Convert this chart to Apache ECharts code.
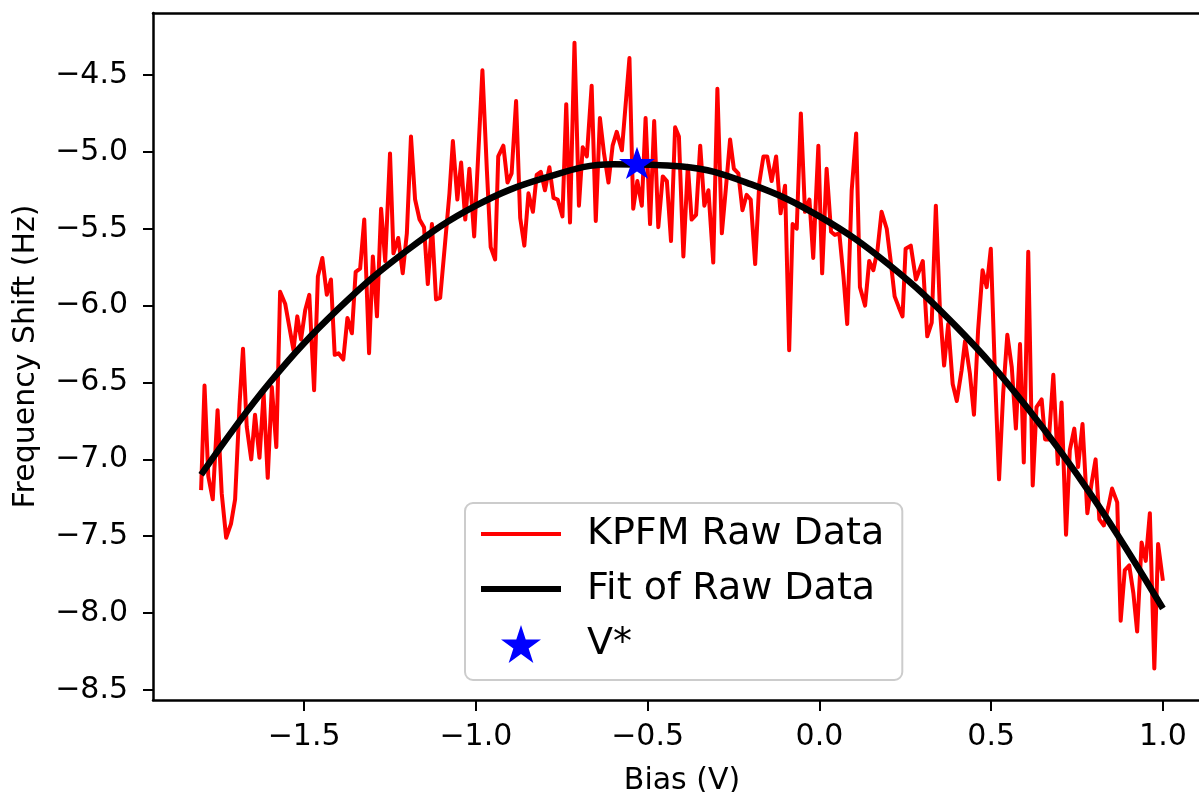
<!DOCTYPE html>
<html>
<head>
<meta charset="utf-8">
<title>KPFM bias sweep</title>
<script src="https://cdn.jsdelivr.net/npm/echarts@6/dist/echarts.min.js"></script>
<style>
  html, body { margin: 0; padding: 0; background: #ffffff; }
  #chart { width: 1199px; height: 792px; }
</style>
</head>
<body>
<div id="chart"></div>
<script>
// raw KPFM sweep
const bias = [
  -1.800, -1.790, -1.779, -1.766, -1.752, -1.740, -1.727, -1.713, -1.701, -1.688,
  -1.678, -1.667, -1.654, -1.643, -1.630, -1.618, -1.606, -1.594, -1.581, -1.570,
  -1.555, -1.543, -1.531, -1.520, -1.509, -1.497, -1.485, -1.471, -1.460, -1.447,
  -1.434, -1.422, -1.411, -1.400, -1.386, -1.374, -1.361, -1.350, -1.337, -1.325,
  -1.311, -1.300, -1.288, -1.276, -1.264, -1.250, -1.240, -1.226, -1.213, -1.201,
  -1.189, -1.177, -1.164, -1.151, -1.140, -1.128, -1.116, -1.104, -1.090, -1.077,
  -1.067, -1.054, -1.043, -1.031, -1.019, -1.005, -0.981, -0.968, -0.957, -0.944,
  -0.935, -0.920, -0.908, -0.896, -0.883, -0.871, -0.859, -0.847, -0.834, -0.823,
  -0.811, -0.799, -0.786, -0.774, -0.762, -0.748, -0.737, -0.726, -0.713, -0.700,
  -0.689, -0.677, -0.663, -0.651, -0.639, -0.627, -0.614, -0.602, -0.590, -0.575,
  -0.553, -0.542, -0.530, -0.517, -0.506, -0.493, -0.481, -0.469, -0.456, -0.444,
  -0.432, -0.420, -0.409, -0.396, -0.383, -0.372, -0.359, -0.347, -0.335, -0.323,
  -0.309, -0.297, -0.284, -0.272, -0.260, -0.249, -0.236, -0.224, -0.212, -0.200,
  -0.187, -0.175, -0.163, -0.152, -0.139, -0.126, -0.113, -0.100, -0.088, -0.078,
  -0.066, -0.054, -0.042, -0.029, -0.018, -0.003, 0.008, 0.021, 0.034, 0.045,
  0.058, 0.070, 0.081, 0.094, 0.107, 0.118, 0.133, 0.145, 0.157, 0.169,
  0.181, 0.196, 0.207, 0.219, 0.231, 0.242, 0.251, 0.266, 0.281, 0.301,
  0.314, 0.327, 0.339, 0.351, 0.363, 0.375, 0.388, 0.400, 0.414, 0.424,
  0.438, 0.450, 0.462, 0.475, 0.487, 0.499, 0.511, 0.523, 0.535, 0.547,
  0.560, 0.572, 0.584, 0.595, 0.608, 0.621, 0.632, 0.647, 0.657, 0.668,
  0.681, 0.694, 0.705, 0.718, 0.729, 0.742, 0.753, 0.766, 0.780, 0.792,
  0.804, 0.815, 0.828, 0.841, 0.852, 0.867, 0.877, 0.889, 0.902, 0.914,
  0.925, 0.938, 0.950, 0.962, 0.975, 0.986, 1.000
];
const shift = [
  -7.20, -6.52, -7.11, -7.26, -6.68, -7.22, -7.51, -7.42, -7.26, -6.64,
  -6.28, -6.79, -7.00, -6.71, -6.99, -6.57, -7.12, -6.53, -6.92, -5.91,
  -5.99, -6.14, -6.29, -6.07, -6.22, -6.03, -5.93, -6.55, -5.81, -5.69,
  -5.93, -5.83, -6.32, -6.31, -6.35, -6.08, -6.18, -5.78, -5.76, -5.44,
  -6.31, -5.68, -6.07, -5.37, -5.71, -5.01, -5.66, -5.56, -5.79, -5.53,
  -4.90, -5.31, -5.44, -5.49, -5.86, -5.47, -5.96, -5.95, -5.60, -5.27,
  -4.93, -5.31, -5.07, -5.44, -5.11, -5.55, -4.47, -5.12, -5.62, -5.70,
  -5.03, -4.96, -5.20, -5.14, -4.67, -5.43, -5.61, -5.27, -5.39, -5.15,
  -5.13, -5.25, -5.10, -5.30, -5.31, -5.42, -4.69, -5.46, -4.29, -5.35,
  -4.97, -5.03, -4.57, -5.45, -4.78, -5.01, -5.20, -4.96, -4.87, -4.99,
  -4.39, -5.37, -5.19, -5.35, -4.78, -5.47, -4.80, -5.49, -5.16, -5.19,
  -5.58, -4.84, -4.90, -5.68, -5.09, -5.44, -5.41, -4.96, -5.35, -5.25,
  -5.72, -4.59, -5.53, -5.23, -4.92, -5.11, -5.14, -5.38, -5.28, -5.31,
  -5.73, -5.20, -5.03, -5.03, -5.19, -5.03, -5.40, -5.22, -6.29, -5.47,
  -5.50, -4.75, -5.39, -5.31, -5.69, -4.96, -5.79, -5.11, -5.52, -5.54,
  -5.53, -5.81, -6.12, -5.25, -4.88, -5.88, -6.00, -5.71, -5.77, -5.64,
  -5.39, -5.50, -5.70, -5.94, -6.01, -6.07, -5.63, -5.61, -5.83, -5.71,
  -6.20, -6.11, -5.35, -6.03, -6.39, -6.12, -6.51, -6.62, -6.42, -6.23,
  -6.44, -6.71, -6.16, -5.77, -5.88, -5.63, -6.44, -7.13, -6.57, -6.19,
  -6.40, -6.80, -6.25, -7.02, -5.65, -7.17, -6.66, -6.61, -6.87, -6.87,
  -6.45, -7.03, -6.63, -7.49, -6.94, -6.80, -7.05, -6.77, -7.35, -7.16,
  -7.00, -7.39, -7.43, -7.31, -7.19, -7.28, -8.05, -7.72, -7.69, -7.87,
  -8.12, -7.54, -7.66, -7.35, -8.36, -7.55, -7.79
];

// fitted curve, sampled from the figure
const fitBias = [-1.8, -1.6, -1.4, -1.2, -1.0, -0.8, -0.6, -0.4, -0.2, 0.0, 0.2, 0.4, 0.6, 0.8, 1.0];
const fitShift = [-7.10, -6.50, -6.02, -5.64, -5.35, -5.17, -5.08, -5.095, -5.21, -5.42, -5.73, -6.14, -6.65, -7.26, -7.97];

// V* marker
const vStar = [-0.531, -5.072];

const xTicks = [-1.5, -1.0, -0.5, 0.0, 0.5, 1.0];
const yTicks = [-8.5, -8.0, -7.5, -7.0, -6.5, -6.0, -5.5, -5.0, -4.5];

const FONT = 'DejaVu Sans';
const STAR = 'path://M50,0 L61.23,34.55 L97.55,34.55 L68.16,55.9 L79.39,90.45 L50,69.1 L20.61,90.45 L31.84,55.9 L2.45,34.55 L38.77,34.55 Z';

function fmt(v) {
  return (v < 0 ? '\u2212' : '') + Math.abs(v).toFixed(1);
}

const chart = echarts.init(document.getElementById('chart'), null, { renderer: 'canvas' });

const axisLine = { show: true, onZero: false, lineStyle: { color: '#000', width: 2.5 } };

const option = {
  animation: false,
  backgroundColor: '#ffffff',
  grid: {
    left: 153, top: 13, width: 1058, height: 687,
    containLabel: false, outerBoundsMode: 'none'
  },
  xAxis: [{
    type: 'value',
    min: -1.94, max: 1.14,
    position: 'bottom',
    splitLine: { show: false },
    axisLine: axisLine,
    axisTick: { show: true, inside: false, length: 11, lineStyle: { color: '#000', width: 2 }, customValues: xTicks },
    axisLabel: { customValues: xTicks, formatter: fmt, fontFamily: FONT, fontSize: 30, color: '#000', margin: 22 },
    name: 'Bias (V)',
    nameLocation: 'middle',
    nameGap: 66,
    nameTextStyle: { fontFamily: FONT, fontSize: 30, color: '#000' }
  }, {
    type: 'value',
    min: -1.94, max: 1.14,
    position: 'top',
    splitLine: { show: false },
    axisLine: axisLine,
    axisTick: { show: false },
    axisLabel: { show: false }
  }],
  yAxis: [{
    type: 'value',
    min: -8.565, max: -4.097,
    position: 'left',
    splitLine: { show: false },
    axisLine: axisLine,
    axisTick: { show: true, inside: false, length: 10, lineStyle: { color: '#000', width: 2 }, customValues: yTicks },
    axisLabel: { customValues: yTicks, formatter: fmt, fontFamily: FONT, fontSize: 30, color: '#000', margin: 25 },
    name: 'Frequency Shift (Hz)',
    nameLocation: 'middle',
    nameGap: 112,
    nameTextStyle: { fontFamily: FONT, fontSize: 30, color: '#000' }
  }],
  legend: {
    orient: 'vertical',
    left: 465, top: 503,
    itemWidth: 80, itemHeight: 38, itemGap: 17,
    padding: [12, 18, 17, 13],
    backgroundColor: 'rgba(255,255,255,0.8)',
    borderColor: '#cccccc', borderWidth: 2, borderRadius: 8,
    selectedMode: false,
    textStyle: { fontFamily: FONT, fontSize: 38, color: '#000', padding: [0, 0, 0, 21] },
    data: [
      { name: 'KPFM Raw Data', lineStyle: { width: 4 }, itemStyle: { opacity: 0 } },
      { name: 'Fit of Raw Data', lineStyle: { width: 6 }, itemStyle: { opacity: 0 } },
      { name: 'V*' }
    ]
  },
  series: [{
    name: 'KPFM Raw Data',
    type: 'line',
    data: bias.map((b, i) => [b, shift[i]]),
    symbol: 'none',
    color: '#ff0000',
    lineStyle: { color: '#ff0000', width: 4, join: 'round' },
    z: 2
  }, {
    name: 'Fit of Raw Data',
    type: 'line',
    data: fitBias.map((b, i) => [b, fitShift[i]]),
    symbol: 'none',
    smooth: 0.4,
    color: '#000000',
    lineStyle: { color: '#000000', width: 6.5, join: 'round' },
    z: 3
  }, {
    name: 'V*',
    type: 'scatter',
    data: [vStar],
    symbol: STAR,
    symbolSize: [36, 34],
    symbolKeepAspect: true,
    color: '#0000ff',
    itemStyle: { color: '#0000ff', opacity: 1 },
    z: 4
  }]
};

chart.setOption(option);
</script>
</body>
</html>
